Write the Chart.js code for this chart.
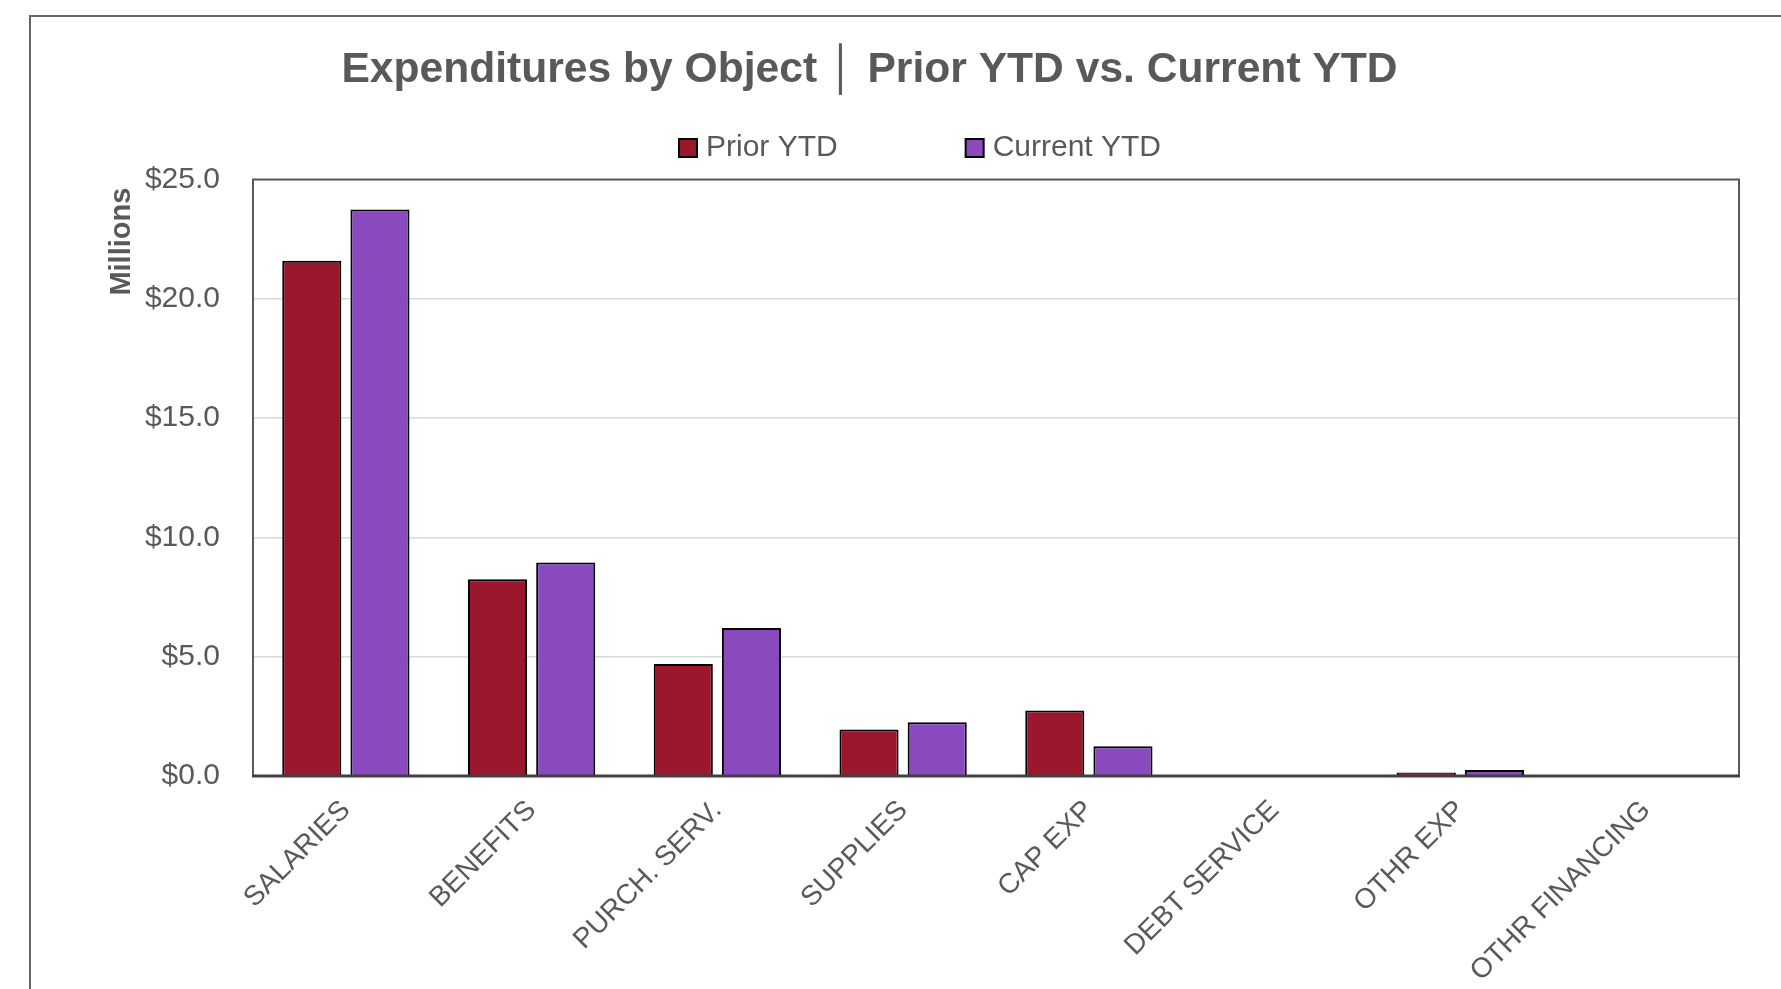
<!DOCTYPE html>
<html>
<head>
<meta charset="utf-8">
<title>Expenditures by Object</title>
<script src="https://cdn.jsdelivr.net/npm/chart.js@4.4.1/dist/chart.umd.min.js"></script>
<style>
  body { margin: 0; background: #fff; }
  #wrap { position: relative; width: 1781px; height: 989px; overflow: hidden; }
  #frame { position: absolute; left: 29px; top: 15px; width: 1800px; height: 1000px; border: 2px solid #666; }
  canvas { position: absolute; left: 0; top: 0; }
</style>
</head>
<body>
<div id="wrap">
  <div id="frame"></div>
  <canvas id="chart" width="1781" height="989"></canvas>
</div>
<script>
// values in millions of dollars
const categories = ["SALARIES", "BENEFITS", "PURCH. SERV.", "SUPPLIES", "CAP EXP", "DEBT SERVICE", "OTHR EXP", "OTHR FINANCING"];
const priorYtd = [21.6, 8.25, 4.7, 1.95, 2.75, 0, 0.15, 0];
const currentYtd = [23.75, 8.95, 6.2, 2.25, 1.25, 0, 0.25, 0];
const yTicks = [0, 5, 10, 15, 20, 25];

const TEXT = "#595959";
const FONT = "'Liberation Sans', Arial, 'DejaVu Sans', sans-serif";

// plot frame: grey box with a heavier axis line on the bottom
const framePlugin = {
  id: "frame",
  afterDraw(chart) {
    const { ctx, chartArea: a } = chart;
    ctx.save();
    ctx.strokeStyle = "#595959";
    ctx.lineWidth = 2;
    ctx.beginPath();
    ctx.moveTo(a.left, a.bottom);
    ctx.lineTo(a.left, a.top);
    ctx.lineTo(a.right, a.top);
    ctx.lineTo(a.right, a.bottom);
    ctx.stroke();
    ctx.strokeStyle = "#404040";
    ctx.lineWidth = 3;
    ctx.beginPath();
    ctx.moveTo(a.left - 1, a.bottom);
    ctx.lineTo(a.right + 1, a.bottom);
    ctx.stroke();
    ctx.restore();
  },
};

// legend drawn by hand so it can sit off-centre like the original
const legendPlugin = {
  id: "sideLegend",
  afterDraw(chart) {
    const { ctx } = chart;
    const box = 18, gap = 9, between = 128, cx = 920, cy = 148;
    ctx.save();
    ctx.font = "30px " + FONT;
    const items = chart.data.datasets.map((ds) => ({ ds, w: ctx.measureText(ds.label).width }));
    const total = items.reduce((s, it) => s + box + gap + it.w, 0) + between * (items.length - 1);
    let x = cx - total / 2;
    items.forEach(({ ds, w }) => {
      ctx.fillStyle = ds.backgroundColor;
      ctx.fillRect(x, cy - box / 2, box, box);
      ctx.strokeStyle = "#000";
      ctx.lineWidth = 2;
      ctx.strokeRect(x, cy - box / 2, box, box);
      ctx.fillStyle = TEXT;
      ctx.textBaseline = "middle";
      ctx.fillText(ds.label, x + box + gap, cy);
      x += box + gap + w + between;
    });
    ctx.restore();
  },
};

new Chart(document.getElementById("chart").getContext("2d"), {
  type: "bar",
  data: {
    labels: categories,
    datasets: [
      {
        label: "Prior YTD",
        data: priorYtd,
        backgroundColor: "#9B172E",
        borderColor: "#000",
        borderWidth: 2,
        categoryPercentage: 0.734,
        barPercentage: 0.867,
      },
      {
        label: "Current YTD",
        data: currentYtd,
        backgroundColor: "#8A4ABE",
        borderColor: "#000",
        borderWidth: 2,
        categoryPercentage: 0.734,
        barPercentage: 0.867,
      },
    ],
  },
  options: {
    responsive: false,
    animation: false,
    layout: { padding: { left: 0, right: 42, top: 0, bottom: 0 } },
    plugins: {
      legend: { display: false },
      tooltip: { enabled: false },
      title: {
        display: true,
        text: "Expenditures by Object \u2502 Prior YTD vs. Current YTD",
        color: TEXT,
        font: { family: FONT, size: 42.6, weight: "bold", lineHeight: 1.2 },
        padding: { top: 45, bottom: 83.5 },
      },
    },
    scales: {
      x: {
        grid: { display: false },
        border: { display: false },
        ticks: {
          color: TEXT,
          font: { family: FONT, size: 28 },
          minRotation: 45,
          maxRotation: 45,
          autoSkip: false,
          padding: 10,
        },
        afterFit: (scale) => { scale.height = 213; },
      },
      y: {
        min: 0,
        max: 25,
        afterBuildTicks: (scale) => { scale.ticks = yTicks.map((v) => ({ value: v })); },
        grid: { color: "#d9d9d9", lineWidth: 1.5, drawTicks: false },
        border: { display: false },
        ticks: {
          color: TEXT,
          font: { family: FONT, size: 30 },
          padding: 33,
          callback: (v) => "$" + Number(v).toFixed(1),
        },
        title: {
          display: true,
          text: "Millions ",
          align: "end",
          color: TEXT,
          font: { family: FONT, size: 29, weight: "bold", lineHeight: 1.2 },
          padding: { top: 105, bottom: 0 },
        },
        afterFit: (scale) => { scale.width = 253; },
      },
    },
  },
  plugins: [framePlugin, legendPlugin],
});
</script>
</body>
</html>
